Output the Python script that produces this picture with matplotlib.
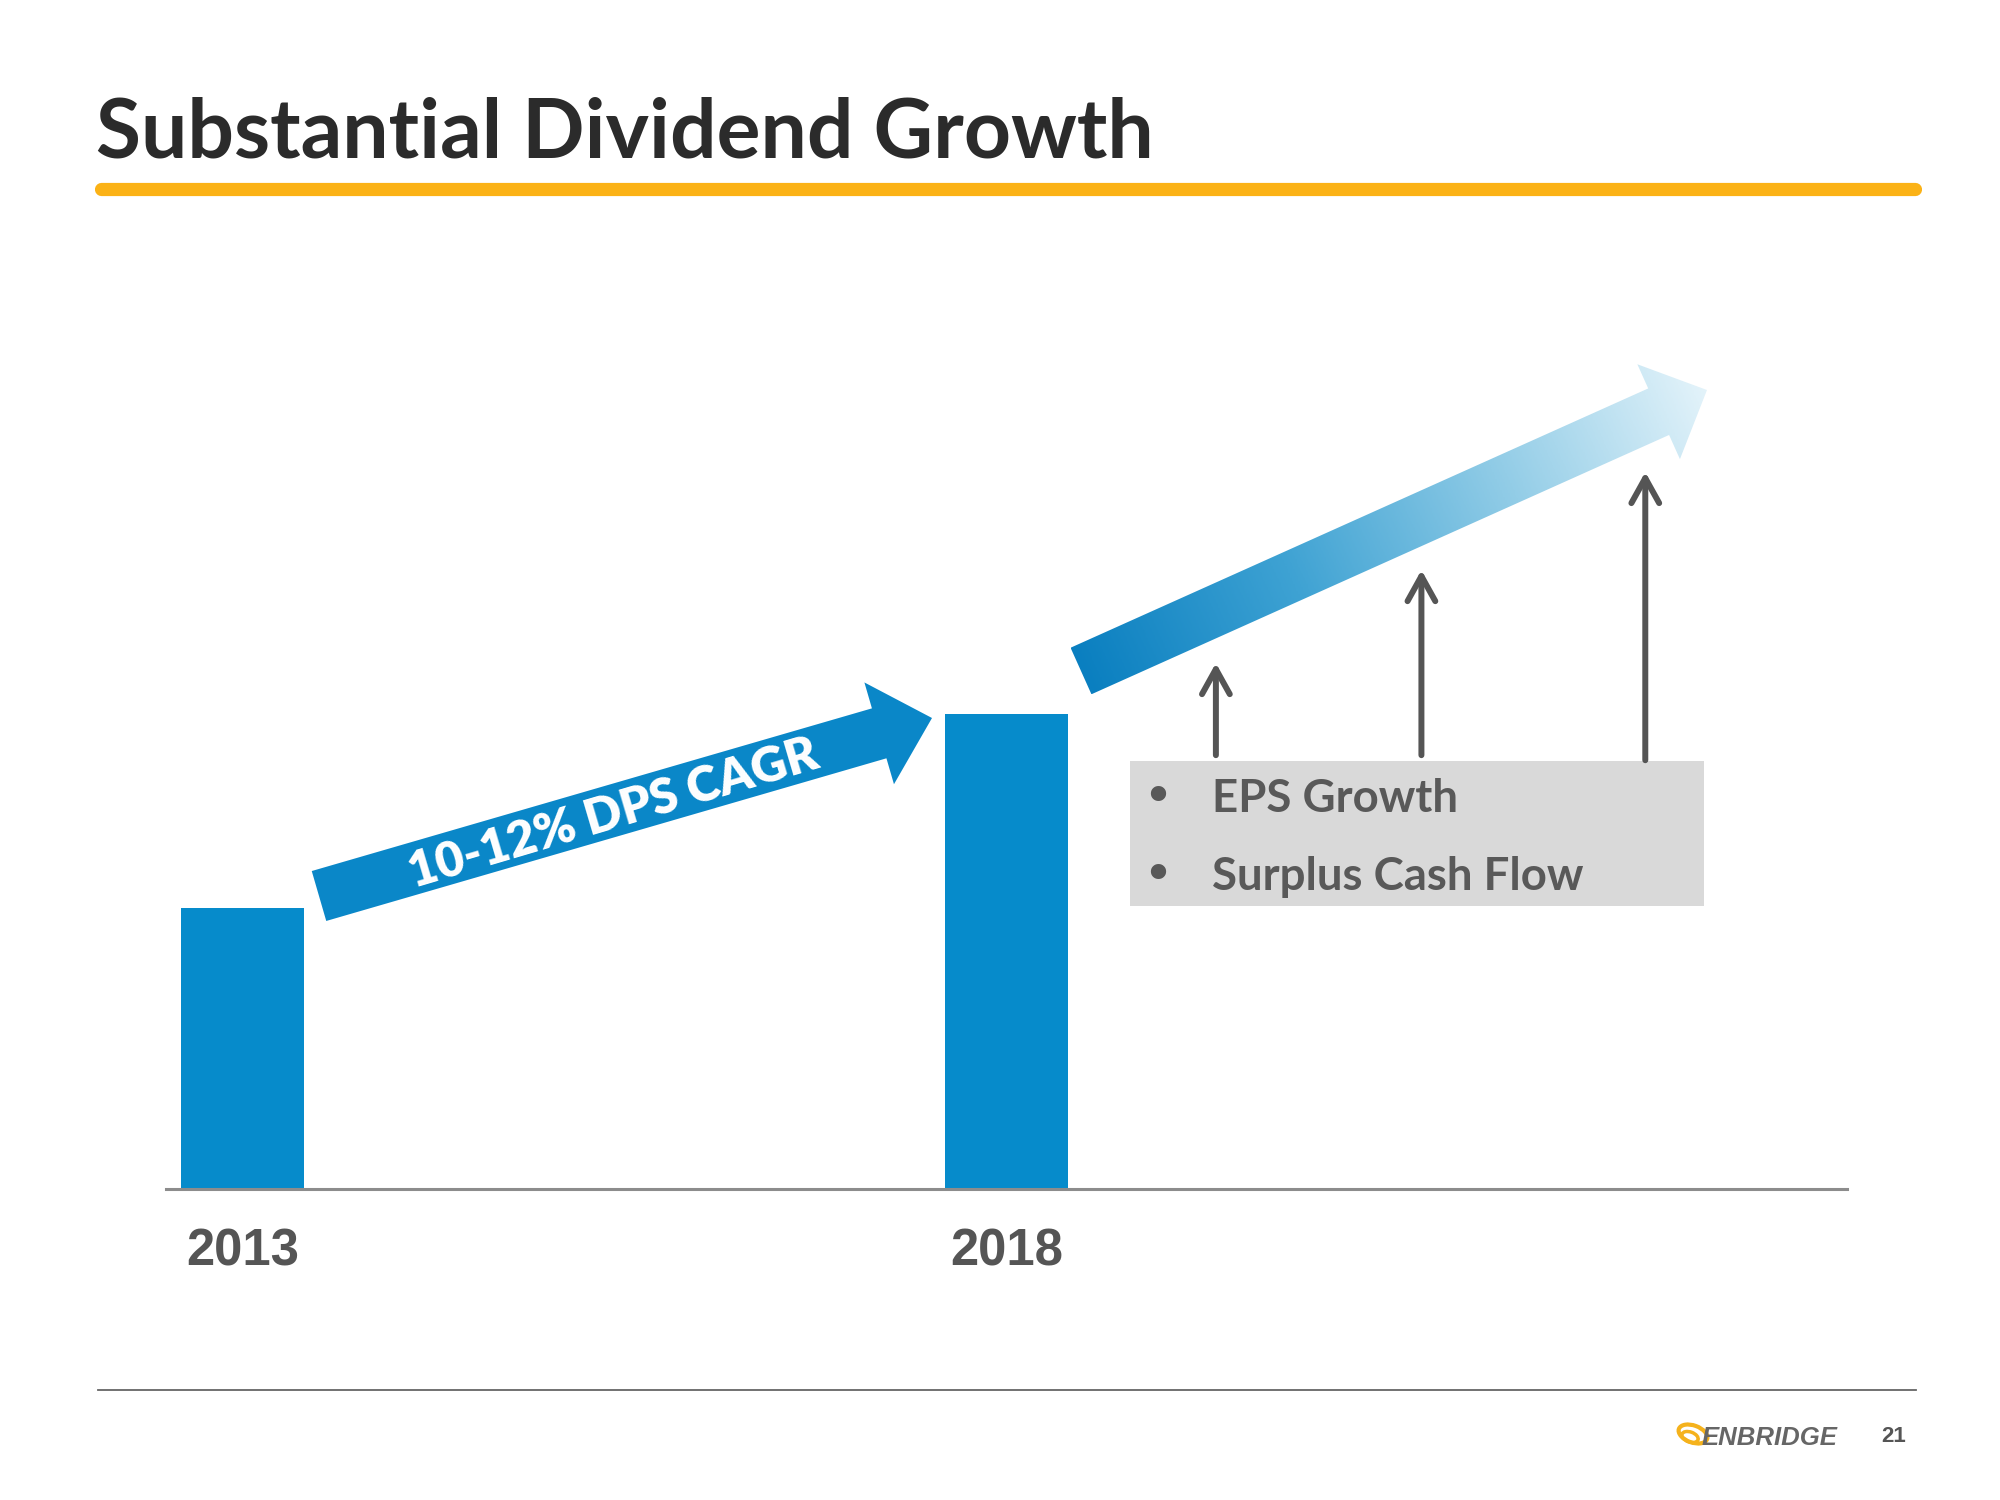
import numpy as np
import matplotlib.pyplot as plt
from matplotlib.patches import Polygon, FancyArrowPatch, Rectangle, Ellipse
from matplotlib.colors import LinearSegmentedColormap

title = 'Substantial Dividend Growth'
years = ['2013', '2018']
dividend_index = [1.0, 1.69]          # 2013 = 1.0
cagr_label = '10-12% DPS CAGR'
drivers = ['EPS Growth', 'Surplus Cash Flow']
# the three grey "growth" arrows beyond 2018 (x in category units, y in index units)
growth_x = [1.274, 1.543, 1.836]
growth_base = [1.544, 1.544, 1.526]
growth_top = [1.872, 2.203, 2.552]
page_no = '21'

BLUE = '#068bcb'
TXT = '#595959'
FONT = 'Lato'

fig = plt.figure(figsize=(20, 15), dpi=100)
renderer = fig.canvas.get_renderer()


def fit_width(t, width):
    # scale a text so its unrotated width matches width (pixels)
    rot = t.get_rotation()
    t.set_rotation(0)
    w = t.get_window_extent(renderer).width
    t.set_fontsize(t.get_fontsize() * width / w)
    t.set_rotation(rot)


def block_arrow(tail, tip, w, hw, hl):
    tail = np.array(tail, float)
    tip = np.array(tip, float)
    u = (tip - tail) / np.linalg.norm(tip - tail)
    n = np.array([-u[1], u[0]])
    h = tip - u * hl
    return np.array([tail + n * w / 2, h + n * w / 2, h + n * hw / 2, tip,
                     h - n * hw / 2, h - n * w / 2, tail - n * w / 2])


# slide layer, pixel coordinates
deco = fig.add_axes([0, 0, 1, 1], zorder=0)
deco.set_xlim(0, 2000)
deco.set_ylim(1500, 0)
deco.axis('off')

t = deco.text(96, 157, title, fontsize=60, fontweight='bold', color='#2b2b2b',
              family=FONT, va='baseline', ha='left')
fit_width(t, 1058)
deco.plot([101, 1915], [189, 189], color='#fbb216', lw=9.5, solid_capstyle='round')
deco.plot([98, 1916], [1390, 1390], color='#666666', lw=1.3)

# CAGR arrow
pts = block_arrow((319, 896), (932, 718), 52, 106, 55)
deco.add_patch(Polygon(pts, closed=True, color='#0a87c8', lw=0))
t = deco.text(614, 814, cagr_label, fontsize=36, fontweight='heavy', color='white',
              family=FONT, rotation=16.5, rotation_mode='anchor',
              ha='center', va='center')
fit_width(t, 425)

# gradient arrow
pts = block_arrow((1081, 671), (1707, 390), 51, 104, 53)
poly = Polygon(pts, closed=True, facecolor='none', edgecolor='none')
deco.add_patch(poly)
x0, x1 = pts[:, 0].min(), pts[:, 0].max()
y0, y1 = pts[:, 1].min(), pts[:, 1].max()
gx, gy = np.meshgrid(np.linspace(x0, x1, 400), np.linspace(y0, y1, 200))
u = np.array([1707 - 1081, 390 - 671], float)
L = np.linalg.norm(u)
u /= L
grad = np.clip(((gx - 1081) * u[0] + (gy - 671) * u[1]) / L, 0, 1)
cmap = LinearSegmentedColormap.from_list('g', ['#0a7fc0', '#3ea2d3', '#8fcbe6', '#e3f3fa'])
im = deco.imshow(grad, cmap=cmap, extent=(x0, x1, y1, y0), origin='upper',
                 aspect='auto', interpolation='bilinear')
im.set_clip_path(poly)
deco.set_xlim(0, 2000)
deco.set_ylim(1500, 0)

# driver box
deco.add_patch(Rectangle((1130, 761), 574, 145, color='#d9d9d9', lw=0))
bl = [812, 890]
for i, s in enumerate(drivers):
    deco.text(1158, bl[i] - 14, '•', fontsize=38, color=TXT, ha='center',
              va='center', family='DejaVu Sans')
    t = deco.text(1212, bl[i], s, fontsize=30, fontweight='bold', color=TXT,
                  family=FONT, va='baseline', ha='left')
    if i == 1:
        fit_width(t, 372)
        fs = t.get_fontsize()
deco.texts[-3].set_fontsize(fs)

# footer logo + page number
deco.add_patch(Ellipse((1693, 1434), 30, 17, angle=20, fill=False, ec='#f5b21c', lw=3))
deco.add_patch(Ellipse((1690, 1437), 17, 10, angle=20, fill=False, ec='#f5b21c', lw=2.5))
deco.text(1702, 1438, 'ENBRIDGE', fontsize=18.5, fontweight='bold', style='italic',
          color='#666666', family='Liberation Sans', va='center', ha='left')
deco.text(1894, 1437, page_no, fontsize=16, fontweight='bold', color='#555555',
          family='Liberation Sans', va='center', ha='center')

# chart
ax = fig.add_axes([0.083, 0.20733, 0.8405, 0.59267], zorder=1)
ax.patch.set_alpha(0)
ax.bar(range(len(years)), dividend_index, width=0.161, color=BLUE, zorder=2)
ax.set_xlim(-0.1001, 2.100)
ax.set_ylim(0, 3.164)
ax.set_xticks(range(len(years)))
ax.set_xticklabels(years, fontsize=36.5, fontweight='bold', color='#555555',
                   family='Liberation Sans')
ax.tick_params(axis='x', length=0, pad=28)
ax.set_yticks([])
for s in ['top', 'right', 'left']:
    ax.spines[s].set_visible(False)
ax.spines['bottom'].set_color('#8c8c8c')
ax.spines['bottom'].set_linewidth(2.2)

for x, b, tp in zip(growth_x, growth_base, growth_top):
    ax.add_patch(FancyArrowPatch((x, b), (x, tp), arrowstyle='->,head_length=0.9,head_width=0.5',
                                 mutation_scale=20, color='#555555', lw=4.3,
                                 shrinkA=0, shrinkB=0))

fig.savefig('out.png', dpi=100)
